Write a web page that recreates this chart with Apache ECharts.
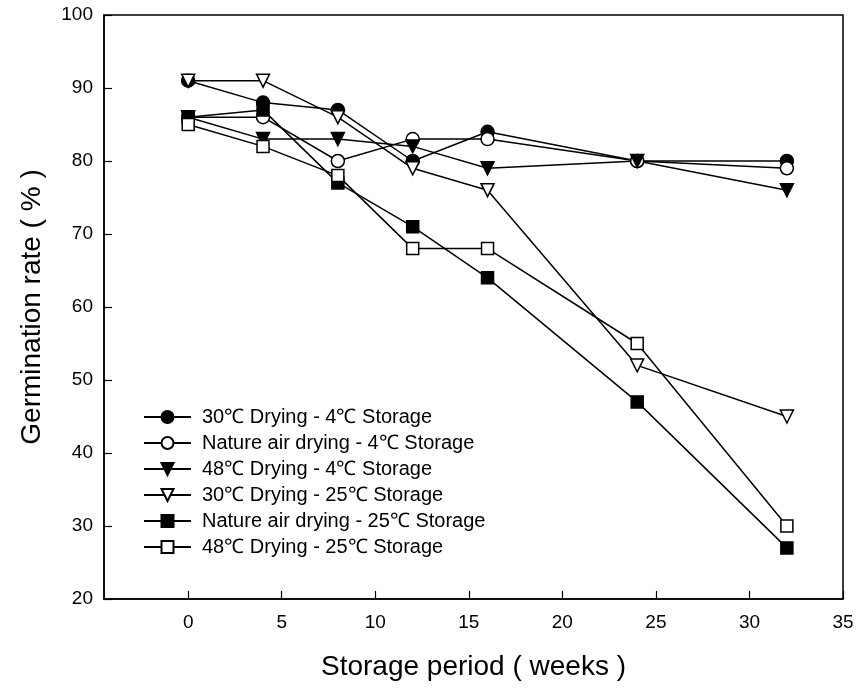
<!DOCTYPE html>
<html>
<head>
<meta charset="utf-8">
<script src="https://cdn.jsdelivr.net/npm/echarts@6/dist/echarts.min.js"></script>
<style>html,body{margin:0;padding:0;background:#fff}#c{width:861px;height:690px}</style>
</head>
<body>
<div id="c"></div>
<script>
const weeks = [0, 4, 8, 12, 16, 24, 32];
const xTicks = [0, 5, 10, 15, 20, 25, 30, 35];
const names = [
  '30\u2103 Drying - 4\u2103 Storage',
  'Nature air drying - 4\u2103 Storage',
  '48\u2103 Drying - 4\u2103 Storage',
  '30\u2103 Drying - 25\u2103 Storage',
  'Nature air drying - 25\u2103 Storage',
  '48\u2103 Drying - 25\u2103 Storage'
];
const d30_4   = [91, 88, 87, 80, 84, 80, 80];
const dNat_4  = [86, 86, 80, 83, 83, 80, 79];
const d48_4   = [86, 83, 83, 82, 79, 80, 76];
const d30_25  = [91, 91, 86, 79, 76, 52, 45];
const dNat_25 = [86, 87, 77, 71, 64, 47, 27];
const d48_25  = [85, 82, 78, 68, 68, 55, 30];

const values = [d30_4, dNat_4, d48_4, d30_25, dNat_25, d48_25];
const symbols = ['circle', 'circle', 'triangle', 'triangle', 'rect', 'rect'];
const rotations = [0, 0, 180, 180, 0, 0];
const filled = [true, false, true, false, true, false];
const sizes = [13, 13, 13, 13, 12, 12];

const FONT = 'Liberation Sans, Arial, sans-serif';

const series = values.map((v, i) => ({
  name: names[i],
  type: 'line',
  data: weeks.map((w, j) => [w, v[j]]),
  symbol: symbols[i],
  symbolSize: sizes[i],
  symbolRotate: rotations[i],
  showAllSymbol: true,
  animation: false,
  lineStyle: { color: '#000', width: 1.5 },
  itemStyle: { color: filled[i] ? '#000' : '#fff', borderColor: '#000', borderWidth: 1.5, opacity: 1 },
  emphasis: { disabled: true }
}));

const chart = echarts.init(document.getElementById('c'));
chart.setOption({
  animation: false,
  backgroundColor: '#fff',
  grid: { left: 104, right: 18, top: 15, bottom: 91, show: true, borderColor: '#000', borderWidth: 1.5, backgroundColor: 'transparent' },
  legend: {
    orient: 'vertical',
    left: 138,
    top: 402,
    itemWidth: 47,
    itemHeight: 15,
    itemGap: 6,
    textStyle: { color: '#000', fontSize: 20, lineHeight: 20, fontFamily: FONT, padding: [0, 0, 0, 6] },
    data: names
  },
  xAxis: {
    type: 'value',
    min: -4.5,
    max: 35,
    name: 'Storage period ( weeks )',
    nameLocation: 'middle',
    nameGap: 54,
    nameTextStyle: { color: '#000', fontSize: 28, fontFamily: FONT },
    axisLine: { show: true, onZero: false, lineStyle: { color: '#000', width: 1.5 } },
    axisTick: { show: true, inside: true, length: 8, customValues: xTicks, lineStyle: { color: '#000', width: 1.2 } },
    axisLabel: { customValues: xTicks, color: '#000', fontSize: 19, margin: 14, fontFamily: FONT },
    splitLine: { show: false }
  },
  yAxis: {
    type: 'value',
    min: 20,
    max: 100,
    interval: 10,
    name: 'Germination rate ( % )',
    nameLocation: 'middle',
    nameGap: 58,
    nameTextStyle: { color: '#000', fontSize: 28, fontFamily: FONT },
    axisLine: { show: true, onZero: false, lineStyle: { color: '#000', width: 1.5 } },
    axisTick: { show: true, inside: true, length: 8, lineStyle: { color: '#000', width: 1.2 } },
    axisLabel: { color: '#000', fontSize: 19, margin: 11, fontFamily: FONT },
    splitLine: { show: false }
  },
  series: series
});
</script>
</body>
</html>
